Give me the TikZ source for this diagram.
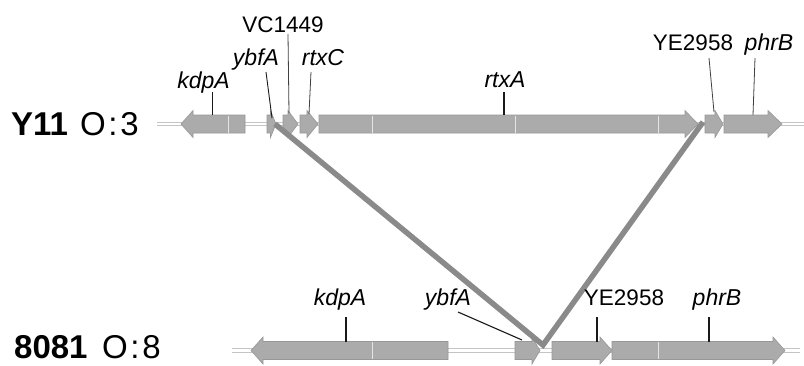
\documentclass[tikz,border=0pt]{standalone}
\usepackage{fontspec}
\setmainfont{Liberation Sans}
\definecolor{genefill}{HTML}{ABABAB}
\definecolor{geneedge}{HTML}{989898}
\definecolor{linkgray}{HTML}{8A8A8A}
\definecolor{bbgray}{HTML}{C4C4C4}
\tikzset{
  genebox/.style={fill=genefill, draw=geneedge, line width=0.6pt},
  backbone/.style={draw=bbgray, line width=0.9pt, double=white, double distance=2.6pt},
  genelab/.style={inner sep=0pt, anchor=base, font=\fontsize{23}{25}\selectfont\itshape},
  idlab/.style={inner sep=0pt, anchor=base, font=\fontsize{22.5}{25}\selectfont},
  strainlab/.style={inner sep=0pt, anchor=base west, font=\fontsize{33}{35}\selectfont\bfseries},
  serolab/.style={inner sep=0pt, anchor=base west, font=\fontsize{33}{35}\selectfont\addfontfeature{LetterSpace=8}},
  pointer/.style={draw=black!90, line width=1.1pt},
  link/.style={draw=linkgray, line width=5.5pt},
  divider/.style={draw=white, line width=0.6pt, opacity=0.7}
}
% right-pointing gene: name, start, head base, tip, centre y
\newcommand\geneR[5]{%
  \path[genebox] (#2,#5-9) -- (#3,#5-9) -- (#3,#5-13.5) -- (#4,#5) -- (#3,#5+13.5) -- (#3,#5+9) -- (#2,#5+9) -- cycle;
  \coordinate (#1) at ({(#2+#4)/2},#5);}
% left-pointing gene: name, tip, head base, end, centre y
\newcommand\geneL[5]{%
  \path[genebox] (#4,#5-9) -- (#3,#5-9) -- (#3,#5-13.5) -- (#2,#5) -- (#3,#5+13.5) -- (#3,#5+9) -- (#4,#5+9) -- cycle;
  \coordinate (#1) at ({(#2+#4)/2},#5);}
\begin{document}
\begin{tikzpicture}[x=1pt, y=-1pt]
\clip (0,0) rectangle (804,365);
\fill[white] (0,0) rectangle (804,365);

% backbones
\coordinate (bbTa) at (157,124);
\coordinate (bbTb) at (806,124);
\coordinate (bbBa) at (232,350.5);
\coordinate (bbBb) at (800,350.5);
\draw[backbone] (bbTa) -- (bbTb);
\draw[backbone] (bbBa) -- (bbBb);

% strain labels
\node[strainlab] (y11) at (11,135) {Y11};
\node[serolab] (o3) at (80,135) {O:3};
\node[strainlab] (s8081) at (14,358.5) {8081};
\node[serolab] (o8) at (102,358.5) {O:8};

% top genes (Y11)
\geneL{TkdpA}{181}{193}{245}{124}
\geneR{TybfA}{267}{270.5}{276}{124}
\geneR{TVC}{283}{288}{298}{124}
\geneR{TrtxC}{300}{307}{318}{124}
\geneR{TrtxA}{319}{685}{698}{124}
\geneR{TYE}{705}{715}{723}{124}
\geneR{TphrB}{724}{768}{782}{124}
\foreach \xx in {228,372,515,658}{\draw[divider] (\xx,115.5) -- (\xx,132.5);}

% bottom genes (8081)
\geneL{BkdpA}{251}{263}{448}{350.5}
\geneR{BybfA}{515}{532}{540}{350.5}
\geneR{BYE}{552}{600}{612}{350.5}
\geneR{BphrB}{612}{773}{785}{350.5}
\foreach \xx in {372,658}{\draw[divider] (\xx,342) -- (\xx,359);}

% links between the two genomes
\coordinate (lkA) at (275,124);
\coordinate (lkV) at (543,345);
\coordinate (lkB) at (703,122);
\draw[link, line join=miter] (lkA) -- (lkV) -- (lkB);

% top labels
\node[genelab] (lTkdpA) at (203.5,88) {kdpA};
\node[genelab] (lTybfA) at (256,65) {ybfA};
\node[idlab] (lTVC) at (283,32) {VC1449};
\node[genelab] (lTrtxC) at (323,65) {rtxC};
\node[genelab] (lTrtxA) at (505,87) {rtxA};
\node[idlab] (lTYE) at (693,50) {YE2958};
\node[genelab] (lTphrB) at (769,50) {phrB};

\coordinate (pTkdpA) at (212.5,92);   \coordinate (gTkdpA) at (212.5,115);
\coordinate (pTybfA) at (266,72);     \coordinate (gTybfA) at (272,118);
\coordinate (pTVC) at (288,34);       \coordinate (gTVC) at (289,113);
\coordinate (pTrtxC) at (311,72);     \coordinate (gTrtxC) at (309,114);
\coordinate (pTrtxA) at (504,92);     \coordinate (gTrtxA) at (504,115);
\coordinate (pTYE) at (709,58);       \coordinate (gTYE) at (714,112);
\coordinate (pTphrB) at (755,58);     \coordinate (gTphrB) at (753,115);
\draw[pointer] (pTkdpA) -- (gTkdpA);
\draw[pointer, line width=0.9pt] (pTybfA) -- (gTybfA);
\draw[pointer, line width=0.8pt, draw=black!75] (pTVC) -- (gTVC);
\draw[pointer, line width=0.8pt, draw=black!75] (pTrtxC) -- (gTrtxC);
\draw[pointer] (pTrtxA) -- (gTrtxA);
\draw[pointer, line width=0.8pt, draw=black!75] (pTYE) -- (gTYE);
\draw[pointer, line width=0.8pt, draw=black!75] (pTphrB) -- (gTphrB);

% bottom labels
\node[genelab] (lBkdpA) at (340,305) {kdpA};
\node[genelab] (lBybfA) at (448,305) {ybfA};
\node[idlab] (lBYE) at (624,305) {YE2958};
\node[genelab] (lBphrB) at (717,305) {phrB};

\coordinate (pBkdpA) at (346,317);    \coordinate (gBkdpA) at (346,341.5);
\coordinate (pBybfA) at (458,312);    \coordinate (gBybfA) at (522,340);
\coordinate (pBYE) at (597,317);      \coordinate (gBYE) at (597,341.5);
\coordinate (pBphrB) at (709,317);    \coordinate (gBphrB) at (709,341.5);
\draw[pointer] (pBkdpA) -- (gBkdpA);
\draw[pointer] (pBybfA) -- (gBybfA);
\draw[pointer] (pBYE) -- (gBYE);
\draw[pointer] (pBphrB) -- (gBphrB);
\end{tikzpicture}
\end{document}
